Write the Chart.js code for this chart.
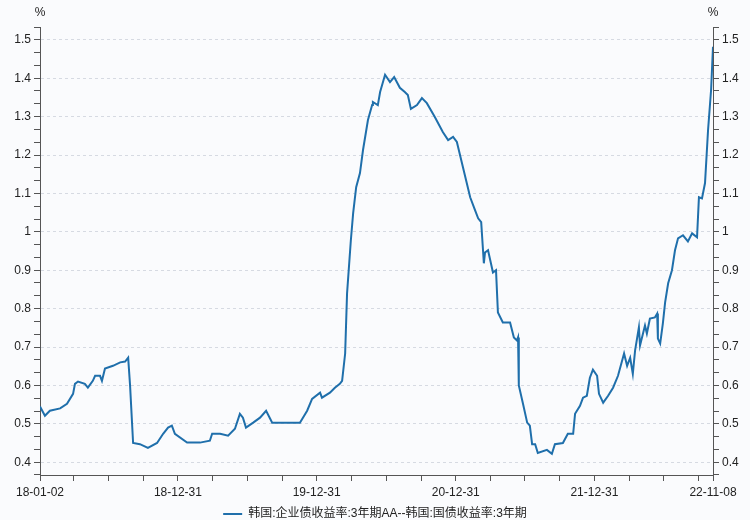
<!DOCTYPE html>
<html>
<head>
<meta charset="utf-8">
<script src="https://cdn.jsdelivr.net/npm/chart.js@4.4.1/dist/chart.umd.min.js"></script>
<style>
  html, body { margin: 0; padding: 0; background: #fafbfd; }
  #wrap { width: 750px; height: 520px; }
</style>
</head>
<body>
<div id="wrap"><canvas id="chart"></canvas></div>
<script>
// 韩国:企业债收益率:3年期AA -- 韩国:国债收益率:3年期 (%)
const dates = [
  '2018-01-02','2018-01-15','2018-01-28','2018-02-24','2018-03-14','2018-03-30','2018-04-04','2018-04-12',
  '2018-04-30','2018-05-08','2018-05-21','2018-05-27','2018-06-09','2018-06-14','2018-06-22','2018-07-13',
  '2018-08-01','2018-08-14','2018-08-22','2018-08-27','2018-09-04','2018-09-22','2018-10-13','2018-11-06',
  '2018-11-22','2018-12-05','2018-12-15','2018-12-23',
  '2019-01-24','2019-02-01','2019-02-27','2019-03-25','2019-03-31','2019-04-21','2019-05-12','2019-05-30',
  '2019-06-12','2019-06-20','2019-06-28','2019-07-17','2019-08-04','2019-08-20','2019-09-05','2019-10-14',
  '2019-11-17','2019-12-06','2019-12-19',
  '2020-01-09','2020-01-14','2020-02-04','2020-02-17','2020-03-01','2020-03-07','2020-03-15','2020-03-20',
  '2020-03-30','2020-04-05','2020-04-13','2020-04-23','2020-05-01','2020-05-14','2020-05-25','2020-05-27',
  '2020-06-09','2020-06-15','2020-06-28','2020-07-11','2020-07-22','2020-08-06','2020-08-19','2020-08-27',
  '2020-09-04','2020-09-20','2020-10-03','2020-10-16','2020-11-06','2020-11-27','2020-12-11','2020-12-24',
  '2021-01-03','2021-01-19','2021-02-07','2021-02-20','2021-02-28','2021-03-08','2021-03-15','2021-03-18',
  '2021-03-26','2021-04-08','2021-04-16','2021-04-21','2021-05-04','2021-05-23','2021-06-02','2021-06-10',
  '2021-06-13','2021-06-15','2021-06-26','2021-07-07','2021-07-14','2021-07-20','2021-07-28','2021-08-04',
  '2021-08-28','2021-09-10','2021-09-18','2021-10-09','2021-10-22','2021-11-05','2021-11-10','2021-11-23',
  '2021-12-01','2021-12-11','2021-12-19','2021-12-27',
  '2022-01-07','2022-01-12','2022-01-23','2022-02-05','2022-02-18','2022-03-03','2022-03-19','2022-03-27',
  '2022-04-04','2022-04-11','2022-04-17','2022-04-27','2022-04-30','2022-05-13','2022-05-18','2022-05-26',
  '2022-06-08','2022-06-14','2022-06-16','2022-06-22','2022-06-29','2022-07-05','2022-07-13','2022-07-23',
  '2022-07-31','2022-08-08','2022-08-21','2022-09-03','2022-09-14','2022-09-27','2022-10-02','2022-10-10',
  '2022-10-18','2022-10-26','2022-11-03','2022-11-08'
];
const spread = [
  0.545,0.521,0.534,0.540,0.552,0.578,0.604,0.610,
  0.604,0.594,0.612,0.625,0.625,0.612,0.644,0.651,
  0.660,0.662,0.672,0.600,0.450,0.447,0.437,0.450,
  0.474,0.490,0.495,0.474,
  0.451,0.451,0.451,0.456,0.474,0.474,0.469,0.487,
  0.526,0.516,0.490,0.503,0.516,0.534,0.503,0.503,
  0.503,0.534,0.565,
  0.581,0.568,0.581,0.594,0.604,0.612,0.683,0.839,
  0.978,1.048,1.116,1.153,1.213,1.291,1.330,1.338,
  1.330,1.364,1.409,1.390,1.403,1.375,1.364,1.356,
  1.320,1.330,1.348,1.335,1.299,1.260,1.239,1.247,
  1.234,1.168,1.090,1.056,1.035,1.025,0.918,0.946,
  0.952,0.894,0.900,0.790,0.764,0.764,0.725,0.717,
  0.725,0.600,0.552,0.503,0.495,0.447,0.447,0.424,
  0.432,0.422,0.447,0.450,0.474,0.474,0.526,0.547,
  0.568,0.573,0.620,0.641,
  0.625,0.578,0.555,0.573,0.594,0.625,0.683,0.651,
  0.672,0.630,0.691,0.751,0.704,0.756,0.735,0.774,
  0.777,0.787,0.722,0.709,0.761,0.816,0.866,0.900,
  0.952,0.983,0.991,0.975,0.996,0.986,1.090,1.087,
  1.127,1.265,1.370,1.482
];

const xTickDates = ['2018-01-02','2018-12-31','2019-12-31','2020-12-31','2021-12-31','2022-11-08'];
const xTickLabels = ['18-01-02','18-12-31','19-12-31','20-12-31','21-12-31','22-11-08'];
const xMinorDates = [
  '2018-04-01','2018-07-01','2018-10-01','2019-04-01','2019-07-01','2019-10-01',
  '2020-04-01','2020-07-01','2020-10-01','2021-04-01','2021-07-01','2021-10-01',
  '2022-04-01','2022-07-01','2022-10-01'
];
const yMajor = [0.4,0.5,0.6,0.7,0.8,0.9,1.0,1.1,1.2,1.3,1.4,1.5];

const seriesName = '韩国:企业债收益率:3年期AA--韩国:国债收益率:3年期';
const lineColor = '#1f6fab';

const base = Date.parse(dates[0]);
const dayNum = s => (Date.parse(s) - base) / 86400000;

const yMin = 0.4 - 1 / 30;
const yMax = 1.5 + 1 / 30;
const isMajorY = v => yMajor.some(m => Math.abs(m - v) < 1e-6);

function buildYTicks(scale) {
  const t = [];
  for (let i = 0; i <= 35; i++) {
    const v = +(yMin + i / 30).toFixed(6);
    const m = yMajor.find(m => Math.abs(m - v) < 1e-4);
    t.push({ value: m !== undefined ? m : v });
  }
  scale.ticks = t;
}

const font = { family: '"Liberation Sans", Arial, "Noto Sans CJK SC", sans-serif', size: 12 };

const yAxis = (pos, grid) => ({
  type: 'linear',
  position: pos,
  min: yMin,
  max: yMax,
  afterBuildTicks: buildYTicks,
  afterFit: s => { s.width = pos === 'left' ? 40 : 37; },
  border: { color: '#555', width: 1, dash: [3, 3] },
  grid: {
    drawOnChartArea: grid,
    color: ctx => (ctx.tick && isMajorY(ctx.tick.value)) ? '#d6dae2' : 'rgba(0,0,0,0)',
    tickColor: '#555',
    tickLength: 6,
    tickBorderDash: []
  },
  ticks: {
    autoSkip: false,
    padding: 3,
    color: '#222',
    font: font,
    callback: v => isMajorY(v) ? String(Number(v.toFixed(1))) : ''
  }
});

const percentPlugin = {
  id: 'percentLabels',
  afterDraw(chart) {
    const { ctx, chartArea } = chart;
    ctx.save();
    ctx.fillStyle = '#222';
    ctx.font = '12px "Liberation Sans", Arial, sans-serif';
    ctx.textAlign = 'center';
    ctx.textBaseline = 'middle';
    ctx.fillText('%', chartArea.left, 13);
    ctx.fillText('%', chartArea.right, 13);
    ctx.restore();
  }
};

new Chart(document.getElementById('chart'), {
  type: 'line',
  data: {
    datasets: [{
      label: seriesName,
      data: dates.map((d, i) => ({ x: dayNum(d), y: spread[i] })),
      borderColor: lineColor,
      backgroundColor: lineColor,
      borderWidth: 2,
      pointRadius: 0,
      tension: 0
    }]
  },
  options: {
    responsive: true,
    maintainAspectRatio: false,
    animation: false,
    layout: { padding: { top: 27, left: 0, right: 0, bottom: -10 } },
    plugins: {
      tooltip: { enabled: false },
      legend: {
        position: 'bottom',
        labels: {
          usePointStyle: true,
          pointStyle: 'line',
          pointStyleWidth: 19,
          padding: 2,
          color: '#222',
          font: font
        }
      }
    },
    scales: {
      x: {
        type: 'linear',
        min: 0,
        max: dayNum(xTickDates[xTickDates.length - 1]),
        afterBuildTicks: s => {
          s.ticks = xTickDates.concat(xMinorDates).map(dayNum).sort((a, b) => a - b).map(v => ({ value: v }));
        },
        afterFit: s => { s.height = 31; },
        border: { color: '#555', width: 1 },
        grid: { drawOnChartArea: false, tickColor: '#555', tickLength: 6 },
        ticks: {
          autoSkip: false,
          maxRotation: 0,
          padding: 4,
          color: '#222',
          font: font,
          callback: v => {
            const i = xTickDates.findIndex(d => Math.abs(dayNum(d) - v) < 0.5);
            return i >= 0 ? xTickLabels[i] : '';
          }
        }
      },
      y: yAxis('left', true),
      y2: yAxis('right', false)
    }
  },
  plugins: [percentPlugin]
});
</script>
</body>
</html>
